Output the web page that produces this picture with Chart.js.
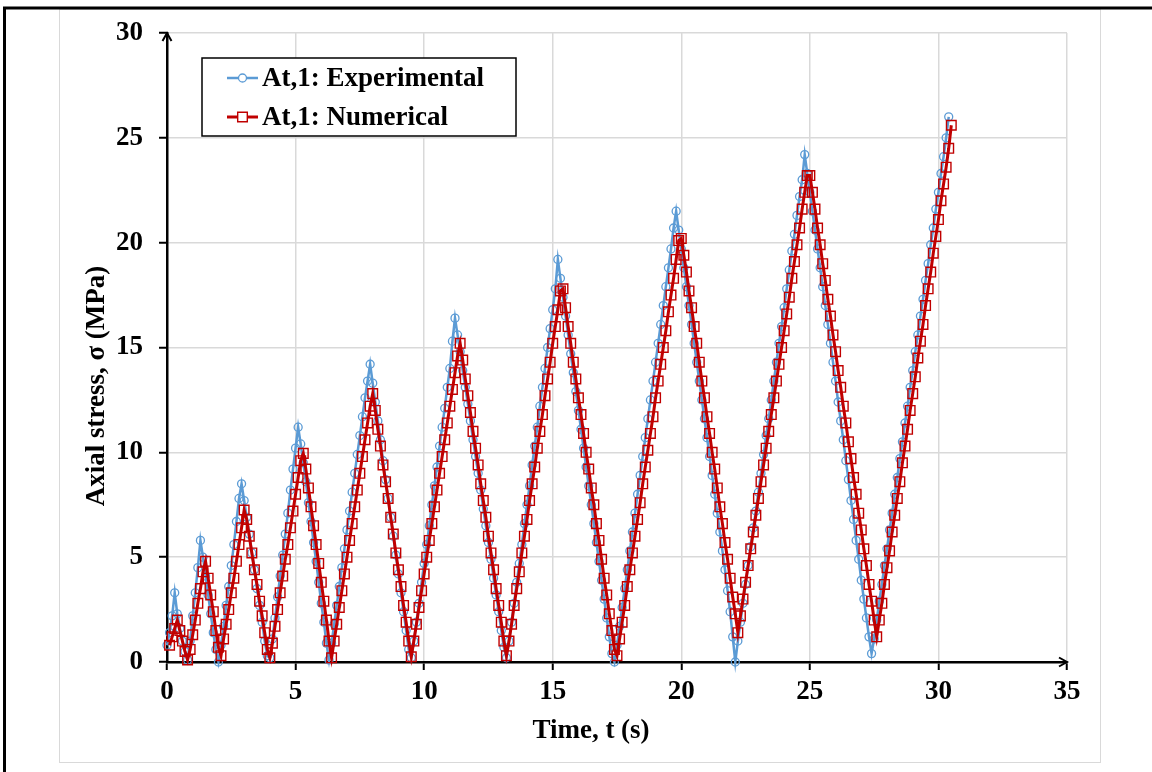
<!DOCTYPE html>
<html>
<head>
<meta charset="utf-8">
<script src="https://cdn.jsdelivr.net/npm/chart.js@4.4.0/dist/chart.umd.min.js"></script>
<style>
html,body{margin:0;padding:0;background:#fff;}
canvas{display:block;}
</style>
</head>
<body>
<canvas id="c" width="1152" height="772"></canvas>
<script>
const seriesNames = ["At,1: Experimental", "At,1: Numerical"];
const xTickValues = [0, 5, 10, 15, 20, 25, 30, 35];
const yTickValues = [0, 5, 10, 15, 20, 25, 30];
const xAxisTitle = "Time, t (s)";
const yAxisTitle = "Axial stress, \u03c3 (MPa)";

const expTime = [
  0.0, 0.1, 0.2, 0.3, 0.4, 0.5, 0.6, 0.7, 0.8, 0.9,
  1.0, 1.1, 1.2, 1.3, 1.4, 1.5, 1.6, 1.7, 1.8, 1.9,
  2.0, 2.1, 2.2, 2.3, 2.4, 2.5, 2.6, 2.7, 2.8, 2.9,
  3.0, 3.1, 3.2, 3.3, 3.4, 3.5, 3.6, 3.7, 3.8, 3.9,
  4.0, 4.1, 4.2, 4.3, 4.4, 4.5, 4.6, 4.7, 4.8, 4.9,
  5.0, 5.1, 5.2, 5.3, 5.4, 5.5, 5.6, 5.7, 5.8, 5.9,
  6.0, 6.1, 6.2, 6.3, 6.4, 6.5, 6.6, 6.7, 6.8, 6.9,
  7.0, 7.1, 7.2, 7.3, 7.4, 7.5, 7.6, 7.7, 7.8, 7.9,
  8.0, 8.1, 8.2, 8.3, 8.4, 8.5, 8.6, 8.7, 8.8, 8.9,
  9.0, 9.1, 9.2, 9.3, 9.4, 9.5, 9.6, 9.7, 9.8, 9.9,
  10.0, 10.1, 10.2, 10.3, 10.4, 10.5, 10.6, 10.7, 10.8, 10.9,
  11.0, 11.1, 11.2, 11.3, 11.4, 11.5, 11.6, 11.7, 11.8, 11.9,
  12.0, 12.1, 12.2, 12.3, 12.4, 12.5, 12.6, 12.7, 12.8, 12.9,
  13.0, 13.1, 13.2, 13.3, 13.4, 13.5, 13.6, 13.7, 13.8, 13.9,
  14.0, 14.1, 14.2, 14.3, 14.4, 14.5, 14.6, 14.7, 14.8, 14.9,
  15.0, 15.1, 15.2, 15.3, 15.4, 15.5, 15.6, 15.7, 15.8, 15.9,
  16.0, 16.1, 16.2, 16.3, 16.4, 16.5, 16.6, 16.7, 16.8, 16.9,
  17.0, 17.1, 17.2, 17.3, 17.4, 17.5, 17.6, 17.7, 17.8, 17.9,
  18.0, 18.1, 18.2, 18.3, 18.4, 18.5, 18.6, 18.7, 18.8, 18.9,
  19.0, 19.1, 19.2, 19.3, 19.4, 19.5, 19.6, 19.7, 19.8, 19.9,
  20.0, 20.1, 20.2, 20.3, 20.4, 20.5, 20.6, 20.7, 20.8, 20.9,
  21.0, 21.1, 21.2, 21.3, 21.4, 21.5, 21.6, 21.7, 21.8, 21.9,
  22.0, 22.1, 22.2, 22.3, 22.4, 22.5, 22.6, 22.7, 22.8, 22.9,
  23.0, 23.1, 23.2, 23.3, 23.4, 23.5, 23.6, 23.7, 23.8, 23.9,
  24.0, 24.1, 24.2, 24.3, 24.4, 24.5, 24.6, 24.7, 24.8, 24.9,
  25.0, 25.1, 25.2, 25.3, 25.4, 25.5, 25.6, 25.7, 25.8, 25.9,
  26.0, 26.1, 26.2, 26.3, 26.4, 26.5, 26.6, 26.7, 26.8, 26.9,
  27.0, 27.1, 27.2, 27.3, 27.4, 27.5, 27.6, 27.7, 27.8, 27.9,
  28.0, 28.1, 28.2, 28.3, 28.4, 28.5, 28.6, 28.7, 28.8, 28.9,
  29.0, 29.1, 29.2, 29.3, 29.4, 29.5, 29.6, 29.7, 29.8, 29.9,
  30.0, 30.1, 30.2, 30.3, 30.4
];
const expStress = [
  0.8, 1.4, 2.2, 3.3, 2.3, 1.6, 1.0, 0.5, 0.1, 1.0,
  2.2, 3.3, 4.5, 5.8, 5.0, 4.1, 3.2, 2.3, 1.4, 0.6,
  0.0, 0.8, 1.7, 2.7, 3.6, 4.6, 5.6, 6.7, 7.8, 8.5,
  7.7, 6.9, 6.1, 5.2, 4.4, 3.5, 2.7, 1.9, 1.0, 0.3,
  0.2, 1.1, 2.1, 3.1, 4.1, 5.1, 6.1, 7.1, 8.2, 9.2,
  10.2, 11.2, 10.4, 9.5, 8.6, 7.6, 6.7, 5.7, 4.8, 3.8,
  2.8, 1.9, 0.9, 0.1, 0.9, 1.8, 2.7, 3.6, 4.5, 5.4,
  6.3, 7.2, 8.1, 9.0, 9.9, 10.8, 11.7, 12.6, 13.4, 14.2,
  13.3, 12.4, 11.5, 10.6, 9.6, 8.7, 7.8, 6.9, 6.0, 5.1,
  4.2, 3.3, 2.4, 1.5, 0.6, 0.2, 1.0, 1.9, 2.8, 3.8,
  4.7, 5.6, 6.5, 7.5, 8.4, 9.3, 10.3, 11.2, 12.1, 13.1,
  14.0, 15.3, 16.4, 15.6, 14.8, 13.9, 13.1, 12.3, 11.5, 10.6,
  9.8, 9.0, 8.2, 7.3, 6.5, 5.7, 4.9, 4.0, 3.2, 2.4,
  1.5, 0.7, 0.2, 1.0, 1.9, 2.8, 3.8, 4.7, 5.6, 6.6,
  7.5, 8.4, 9.4, 10.3, 11.2, 12.2, 13.1, 14.0, 15.0, 15.9,
  16.8, 17.8, 19.2, 18.3, 17.4, 16.5, 15.6, 14.7, 13.8, 12.9,
  12.0, 11.1, 10.2, 9.3, 8.4, 7.5, 6.6, 5.7, 4.8, 3.9,
  3.0, 2.1, 1.2, 0.4, 0.0, 0.8, 1.7, 2.6, 3.5, 4.4,
  5.3, 6.2, 7.1, 8.0, 8.9, 9.8, 10.7, 11.6, 12.5, 13.4,
  14.3, 15.2, 16.1, 17.0, 17.9, 18.8, 19.7, 20.7, 21.5, 20.6,
  19.7, 18.8, 17.9, 17.0, 16.1, 15.2, 14.3, 13.4, 12.5, 11.6,
  10.7, 9.8, 8.9, 8.0, 7.1, 6.2, 5.3, 4.4, 3.4, 2.4,
  1.2, 0.0, 1.0, 1.9, 2.8, 3.7, 4.6, 5.5, 6.4, 7.2,
  8.1, 9.0, 9.9, 10.8, 11.6, 12.5, 13.4, 14.3, 15.2, 16.0,
  16.9, 17.8, 18.7, 19.6, 20.4, 21.3, 22.2, 23.0, 24.2, 23.3,
  22.4, 21.5, 20.6, 19.7, 18.8, 17.9, 17.0, 16.1, 15.2, 14.3,
  13.4, 12.4, 11.5, 10.6, 9.6, 8.7, 7.7, 6.8, 5.8, 4.9,
  3.9, 3.0, 2.1, 1.2, 0.4, 1.1, 2.0, 2.9, 3.7, 4.6,
  5.4, 6.3, 7.1, 8.0, 8.8, 9.7, 10.5, 11.4, 12.2, 13.1,
  13.9, 14.8, 15.6, 16.5, 17.3, 18.2, 19.0, 19.9, 20.7, 21.6,
  22.4, 23.3, 24.1, 25.0, 26.0
];

const numTime = [
  0.1, 0.2, 0.3, 0.4, 0.5, 0.6, 0.7, 0.8, 0.9,
  1.0, 1.1, 1.2, 1.3, 1.4, 1.5, 1.6, 1.7, 1.8, 1.9,
  2.0, 2.1, 2.2, 2.3, 2.4, 2.5, 2.6, 2.7, 2.8, 2.9,
  3.0, 3.1, 3.2, 3.3, 3.4, 3.5, 3.6, 3.7, 3.8, 3.9,
  4.0, 4.1, 4.2, 4.3, 4.4, 4.5, 4.6, 4.7, 4.8, 4.9,
  5.0, 5.1, 5.2, 5.3, 5.4, 5.5, 5.6, 5.7, 5.8, 5.9,
  6.0, 6.1, 6.2, 6.3, 6.4, 6.5, 6.6, 6.7, 6.8, 6.9,
  7.0, 7.1, 7.2, 7.3, 7.4, 7.5, 7.6, 7.7, 7.8, 7.9,
  8.0, 8.1, 8.2, 8.3, 8.4, 8.5, 8.6, 8.7, 8.8, 8.9,
  9.0, 9.1, 9.2, 9.3, 9.4, 9.5, 9.6, 9.7, 9.8, 9.9,
  10.0, 10.1, 10.2, 10.3, 10.4, 10.5, 10.6, 10.7, 10.8, 10.9,
  11.0, 11.1, 11.2, 11.3, 11.4, 11.5, 11.6, 11.7, 11.8, 11.9,
  12.0, 12.1, 12.2, 12.3, 12.4, 12.5, 12.6, 12.7, 12.8, 12.9,
  13.0, 13.1, 13.2, 13.3, 13.4, 13.5, 13.6, 13.7, 13.8, 13.9,
  14.0, 14.1, 14.2, 14.3, 14.4, 14.5, 14.6, 14.7, 14.8, 14.9,
  15.0, 15.1, 15.2, 15.3, 15.4, 15.5, 15.6, 15.7, 15.8, 15.9,
  16.0, 16.1, 16.2, 16.3, 16.4, 16.5, 16.6, 16.7, 16.8, 16.9,
  17.0, 17.1, 17.2, 17.3, 17.4, 17.5, 17.6, 17.7, 17.8, 17.9,
  18.0, 18.1, 18.2, 18.3, 18.4, 18.5, 18.6, 18.7, 18.8, 18.9,
  19.0, 19.1, 19.2, 19.3, 19.4, 19.5, 19.6, 19.7, 19.8, 19.9,
  20.0, 20.1, 20.2, 20.3, 20.4, 20.5, 20.6, 20.7, 20.8, 20.9,
  21.0, 21.1, 21.2, 21.3, 21.4, 21.5, 21.6, 21.7, 21.8, 21.9,
  22.0, 22.1, 22.2, 22.3, 22.4, 22.5, 22.6, 22.7, 22.8, 22.9,
  23.0, 23.1, 23.2, 23.3, 23.4, 23.5, 23.6, 23.7, 23.8, 23.9,
  24.0, 24.1, 24.2, 24.3, 24.4, 24.5, 24.6, 24.7, 24.8, 24.9,
  25.0, 25.1, 25.2, 25.3, 25.4, 25.5, 25.6, 25.7, 25.8, 25.9,
  26.0, 26.1, 26.2, 26.3, 26.4, 26.5, 26.6, 26.7, 26.8, 26.9,
  27.0, 27.1, 27.2, 27.3, 27.4, 27.5, 27.6, 27.7, 27.8, 27.9,
  28.0, 28.1, 28.2, 28.3, 28.4, 28.5, 28.6, 28.7, 28.8, 28.9,
  29.0, 29.1, 29.2, 29.3, 29.4, 29.5, 29.6, 29.7, 29.8, 29.9,
  30.0, 30.1, 30.2, 30.3, 30.4, 30.5
];
const numStress = [
  0.8, 1.2, 1.6, 2.0, 1.5, 1.0, 0.5, 0.1, 0.6,
  1.3, 2.0, 2.8, 3.5, 4.3, 4.8, 4.0, 3.2, 2.4, 1.5,
  0.7, 0.3, 1.1, 1.8, 2.5, 3.3, 4.0, 4.8, 5.6, 6.4,
  7.25, 6.8, 6.0, 5.2, 4.4, 3.7, 2.9, 2.2, 1.4, 0.6,
  0.2, 0.9, 1.7, 2.5, 3.3, 4.1, 4.9, 5.6, 6.4, 7.2,
  8.0, 8.8, 9.6, 9.95, 9.2, 8.3, 7.4, 6.5, 5.6, 4.7,
  3.8, 2.9, 2.0, 1.0, 0.2, 1.0, 1.8, 2.6, 3.4, 4.2,
  5.0, 5.8, 6.6, 7.4, 8.2, 9.0, 9.8, 10.6, 11.4, 12.2,
  12.8, 12.0, 11.1, 10.3, 9.4, 8.6, 7.8, 6.9, 6.1, 5.2,
  4.4, 3.6, 2.7, 1.9, 1.0, 0.25, 1.0, 1.8, 2.6, 3.4,
  4.2, 5.0, 5.8, 6.6, 7.4, 8.2, 9.0, 9.8, 10.6, 11.4,
  12.2, 13.0, 13.8, 14.6, 15.2, 14.4, 13.5, 12.7, 11.9, 11.0,
  10.2, 9.4, 8.5, 7.7, 6.9, 6.0, 5.2, 4.4, 3.5, 2.7,
  1.9, 1.0, 0.3, 1.0, 1.8, 2.7, 3.5, 4.3, 5.2, 6.0,
  6.8, 7.7, 8.5, 9.3, 10.2, 11.0, 11.8, 12.7, 13.5, 14.3,
  15.2, 16.0, 16.8, 17.7, 17.8, 16.9, 16.0, 15.2, 14.3, 13.5,
  12.6, 11.8, 10.9, 10.0, 9.2, 8.3, 7.5, 6.6, 5.8, 4.9,
  4.0, 3.2, 2.3, 1.5, 0.6, 0.3, 1.1, 1.9, 2.7, 3.6,
  4.4, 5.2, 6.0, 6.8, 7.6, 8.5, 9.3, 10.1, 10.9, 11.7,
  12.6, 13.4, 14.2, 15.0, 15.8, 16.7, 17.5, 18.3, 19.2, 20.1,
  20.2, 19.4, 18.6, 17.7, 16.9, 16.0, 15.2, 14.3, 13.4, 12.6,
  11.7, 10.9, 10.0, 9.2, 8.3, 7.4, 6.6, 5.7, 4.9, 4.0,
  3.1, 2.3, 1.4, 2.2, 3.0, 3.8, 4.6, 5.4, 6.2, 7.0,
  7.8, 8.6, 9.4, 10.2, 11.0, 11.8, 12.6, 13.4, 14.2, 15.0,
  15.8, 16.6, 17.4, 18.3, 19.1, 19.9, 20.7, 21.6, 22.4, 23.2,
  23.2, 22.4, 21.6, 20.7, 19.9, 19.0, 18.2, 17.3, 16.5, 15.6,
  14.8, 13.9, 13.1, 12.2, 11.4, 10.5, 9.7, 8.8, 8.0, 7.1,
  6.3, 5.4, 4.6, 3.7, 2.9, 2.0, 1.2, 2.0, 2.8, 3.7,
  4.5, 5.3, 6.2, 7.0, 7.8, 8.6, 9.5, 10.3, 11.1, 12.0,
  12.8, 13.6, 14.5, 15.3, 16.1, 17.0, 17.8, 18.6, 19.5, 20.3,
  21.1, 22.0, 22.8, 23.6, 24.5, 25.6
];

const FONT = "'Liberation Serif', 'Times New Roman', serif";
const EXP_COLOR = '#5b9bd5';
const NUM_COLOR = '#c00000';

function pairs(xs, ys) {
  const n = Math.min(xs.length, ys.length);
  const out = [];
  for (let i = 0; i < n; i++) out.push({ x: xs[i], y: ys[i] });
  return out;
}

const decor = {
  id: 'decor',
  beforeDraw(chart) {
    const ctx = chart.ctx;
    ctx.save();
    ctx.fillStyle = '#fff';
    ctx.fillRect(0, 0, chart.width, chart.height);
    ctx.strokeStyle = '#d9d9d9';
    ctx.lineWidth = 1;
    ctx.strokeRect(59.5, 9.5, 1041, 753);
    ctx.strokeStyle = '#000';
    ctx.lineWidth = 3;
    ctx.beginPath();
    ctx.moveTo(4.5, 772);
    ctx.lineTo(4.5, 8);
    ctx.lineTo(1152, 8);
    ctx.stroke();
    ctx.restore();
  },
  afterDraw(chart) {
    const ctx = chart.ctx;
    const a = chart.chartArea;
    ctx.save();
    ctx.strokeStyle = '#000';
    ctx.lineWidth = 2;
    ctx.beginPath();
    ctx.moveTo(a.left - 4.5, a.top + 8);
    ctx.lineTo(a.left, a.top);
    ctx.lineTo(a.left + 4.5, a.top + 8);
    ctx.moveTo(a.right - 8, a.bottom - 4.5);
    ctx.lineTo(a.right, a.bottom);
    ctx.lineTo(a.right - 8, a.bottom + 4.5);
    ctx.stroke();

    ctx.fillStyle = '#000';
    ctx.font = 'bold 27px ' + FONT;
    ctx.textAlign = 'center';
    ctx.textBaseline = 'middle';
    ctx.fillText(xAxisTitle, 591, 731);
    ctx.save();
    ctx.translate(97, 386);
    ctx.rotate(-Math.PI / 2);
    ctx.fillText(yAxisTitle, 0, 0);
    ctx.restore();

    ctx.fillStyle = '#fff';
    ctx.fillRect(202, 58, 314, 78);
    ctx.strokeStyle = '#000';
    ctx.lineWidth = 1.5;
    ctx.strokeRect(202, 58, 314, 78);
    const rows = [78, 117];
    chart.data.datasets.forEach((ds, i) => {
      const y = rows[i];
      ctx.strokeStyle = ds.borderColor;
      ctx.lineWidth = ds.borderWidth;
      ctx.beginPath();
      ctx.moveTo(227, y);
      ctx.lineTo(258, y);
      ctx.stroke();
      ctx.lineWidth = ds.pointBorderWidth;
      ctx.fillStyle = '#fff';
      ctx.beginPath();
      if (ds.pointStyle === 'circle') {
        ctx.arc(242.5, y, ds.pointRadius, 0, Math.PI * 2);
      } else {
        const s = ds.pointRadius * Math.SQRT1_2;
        ctx.rect(242.5 - s, y - s, 2 * s, 2 * s);
      }
      ctx.fill();
      ctx.stroke();
      ctx.fillStyle = '#000';
      ctx.font = 'bold 27px ' + FONT;
      ctx.textAlign = 'left';
      ctx.textBaseline = 'middle';
      ctx.fillText(ds.label, 262, y + 1);
    });
    ctx.restore();
  }
};

const tickFont = { family: FONT, size: 27, weight: 'bold' };

new Chart(document.getElementById('c'), {
  type: 'line',
  data: {
    datasets: [
      {
        label: seriesNames[0],
        data: pairs(expTime, expStress),
        borderColor: EXP_COLOR,
        borderWidth: 2.5,
        pointStyle: 'circle',
        pointRadius: 4,
        pointBorderWidth: 1.3,
        pointBorderColor: EXP_COLOR,
        pointBackgroundColor: 'rgba(255,255,255,0)',
        tension: 0,
        clip: false,
        order: 2
      },
      {
        label: seriesNames[1],
        data: pairs(numTime, numStress),
        borderColor: NUM_COLOR,
        borderWidth: 3,
        pointStyle: 'rect',
        pointRadius: 6.8,
        pointBorderWidth: 1.4,
        pointBorderColor: NUM_COLOR,
        pointBackgroundColor: 'rgba(255,255,255,0)',
        tension: 0,
        clip: false,
        order: 1
      }
    ]
  },
  options: {
    responsive: false,
    animation: false,
    devicePixelRatio: 1,
    layout: { padding: { left: 0, top: 33, right: 85, bottom: 0 } },
    plugins: {
      legend: { display: false },
      tooltip: { enabled: false },
      title: { display: false }
    },
    scales: {
      x: {
        type: 'linear',
        min: 0,
        max: 35,
        afterBuildTicks: s => { s.ticks = xTickValues.map(v => ({ value: v })); },
        afterFit: s => { s.height = 110; },
        ticks: { font: tickFont, color: '#000', padding: 6, maxRotation: 0 },
        grid: { color: '#d9d9d9', lineWidth: 1.5, tickColor: '#000', tickLength: 8, tickWidth: 2 },
        border: { color: '#000', width: 2.5 }
      },
      y: {
        type: 'linear',
        min: 0,
        max: 30,
        afterBuildTicks: s => { s.ticks = yTickValues.map(v => ({ value: v })); },
        afterFit: s => { s.width = 167; },
        ticks: { font: tickFont, color: '#000', padding: 16 },
        grid: { color: '#d9d9d9', lineWidth: 1.5, tickColor: '#000', tickLength: 8, tickWidth: 2 },
        border: { color: '#000', width: 2.5 }
      }
    }
  },
  plugins: [decor]
});
</script>
</body>
</html>
